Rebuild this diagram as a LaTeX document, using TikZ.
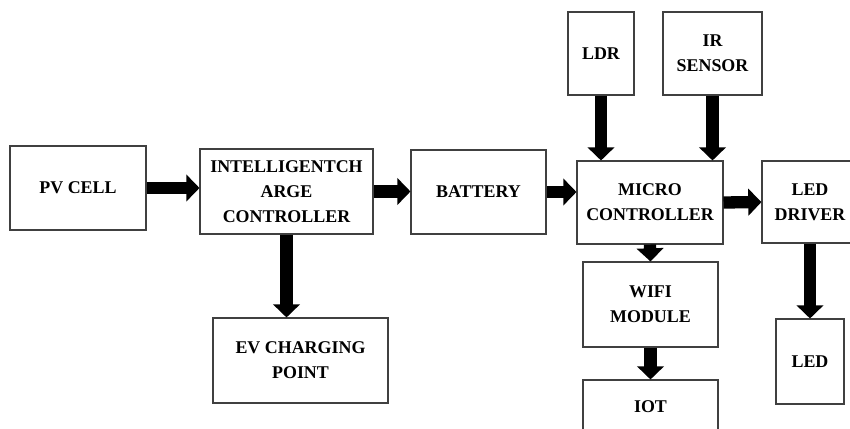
\documentclass[tikz,border=0pt]{standalone}
\usepackage{fontspec}
\setmainfont{Liberation Serif}
\usetikzlibrary{arrows.meta}

\begin{document}
\begin{tikzpicture}[x=0.02cm,y=-0.02cm,
 box/.style={draw=black!75,line width=0.6pt,align=center,inner sep=0pt,
  font=\bfseries\fontsize{10.2}{14.2}\selectfont},
 flow/.style={line width=7pt,-{Triangle[width=15pt,length=7.5pt]}}]
 \useasboundingbox (0,0) rectangle (850,429);
 \node[box,minimum width=2.72cm,minimum height=1.68cm] (pv) at (78,188) {PV CELL};
 \node[box,minimum width=3.46cm,minimum height=1.7cm] (ctrl) at (286.5,191.5) {INTELLIGENTCH\\ARGE\\CONTROLLER};
 \node[box,minimum width=2.7cm,minimum height=1.68cm] (batt) at (478.5,192) {BATTERY};
 \node[box,minimum width=2.92cm,minimum height=1.66cm] (mcu) at (650,202.5) {MICRO\\CONTROLLER};
 \node[box,minimum width=1.32cm,minimum height=1.66cm] (ldr) at (601,53.5) {LDR};
 \node[box,minimum width=1.98cm,minimum height=1.66cm] (ir) at (712.5,53.5) {IR\\SENSOR};
 \node[box,minimum width=1.92cm,minimum height=1.64cm] (drv) at (810,202) {LED\\DRIVER};
 \node[box,minimum width=3.5cm,minimum height=1.7cm] (ev) at (300.5,360.5) {EV CHARGING\\POINT};
 \node[box,minimum width=2.7cm,minimum height=1.7cm] (wifi) at (650.5,304.5) {WIFI\\MODULE};
 \node[box,minimum width=2.7cm,minimum height=1.08cm] (iot) at (650.5,407) {IOT};
 \node[box,minimum width=1.36cm,minimum height=1.7cm] (led) at (810,361.5) {LED};

 \draw[flow] (pv.east) -- (ctrl.west |- pv.east);
 \draw[flow] (ctrl.east) -- (batt.west |- ctrl.east);
 \draw[flow] (batt.east) -- (mcu.west |- batt.east);
 \draw[flow] (mcu.east) -- (drv.west);
 \draw[flow] (ldr.south) -- (ldr.south |- mcu.north);
 \draw[flow] (ir.south) -- (ir.south |- mcu.north);
 \draw[flow] (ctrl.south) -- (ctrl.south |- ev.north);
 \draw[flow] (mcu.south) -- (wifi.north);
 \draw[flow] (wifi.south) -- (iot.north);
 \draw[flow] (drv.south) -- (led.north);
\end{tikzpicture}
\end{document}
